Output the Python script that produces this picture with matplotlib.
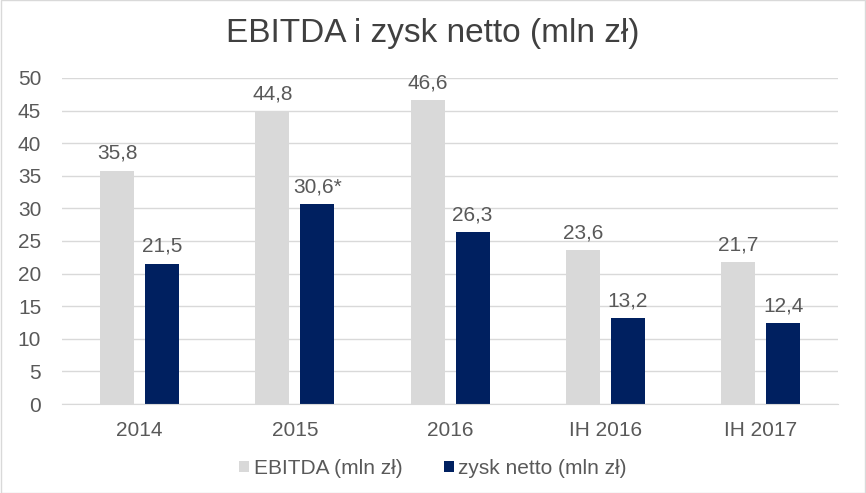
import numpy as np
import matplotlib.pyplot as plt

# chart data
categories = ['2014', '2015', '2016', 'IH 2016', 'IH 2017']
ebitda = [35.8, 44.8, 46.6, 23.6, 21.7]
zysk = [21.5, 30.6, 26.3, 13.2, 12.4]
ebitda_labels = ['35,8', '44,8', '46,6', '23,6', '21,7']
zysk_labels = ['21,5', '30,6*', '26,3', '13,2', '12,4']

plt.rcParams['font.family'] = ['Liberation Sans', 'DejaVu Sans']
text_color = '#595959'

fig = plt.figure(figsize=(8.66, 4.93), dpi=100)
ax = fig.add_axes([0.0716, 0.1805, 0.8964, 0.6615])

x = np.arange(len(categories))
w = 0.22
b1 = ax.bar(x - 0.145, ebitda, w, color='#d9d9d9', label='EBITDA (mln zł)', zorder=2)
b2 = ax.bar(x + 0.145, zysk, w, color='#002060', label='zysk netto (mln zł)', zorder=2)

for rect, lab in zip(b1, ebitda_labels):
    ax.text(rect.get_x() + rect.get_width() / 2, rect.get_height() + 1.2, lab,
            ha='center', va='bottom', fontsize=15, color=text_color)
for rect, lab in zip(b2, zysk_labels):
    ax.text(rect.get_x() + rect.get_width() / 2, rect.get_height() + 1.2, lab,
            ha='center', va='bottom', fontsize=15, color=text_color)

ax.set_xlim(-0.5, len(categories) - 0.5)
ax.set_ylim(0, 50)
ax.set_yticks(range(0, 51, 5))
ax.set_xticks(x)
ax.set_xticklabels(categories)
ax.tick_params(axis='both', length=0, labelsize=15, colors=text_color)
ax.tick_params(axis='y', pad=15)
ax.tick_params(axis='x', pad=12)
ax.grid(axis='y', color='#d9d9d9', linewidth=1, zorder=0)
for s in ['top', 'right', 'left']:
    ax.spines[s].set_visible(False)
ax.spines['bottom'].set_color('#d9d9d9')

fig.text(0.5, 0.932, 'EBITDA i zysk netto (mln zł)', ha='center', va='center',
         fontsize=24, color='#404040')

fig.legend(loc='center', bbox_to_anchor=(0.5, 0.05), ncol=2, frameon=False,
           fontsize=15, labelcolor=text_color, handlelength=0.5, handleheight=0.5,
           handletextpad=0.2, columnspacing=2.0)

# light frame around the figure
fig.patches.append(plt.Rectangle((0.001, 0.001), 0.998, 0.998, transform=fig.transFigure,
                                 fill=False, edgecolor='#d9d9d9', linewidth=1))

fig.savefig('out.png', dpi=100)
